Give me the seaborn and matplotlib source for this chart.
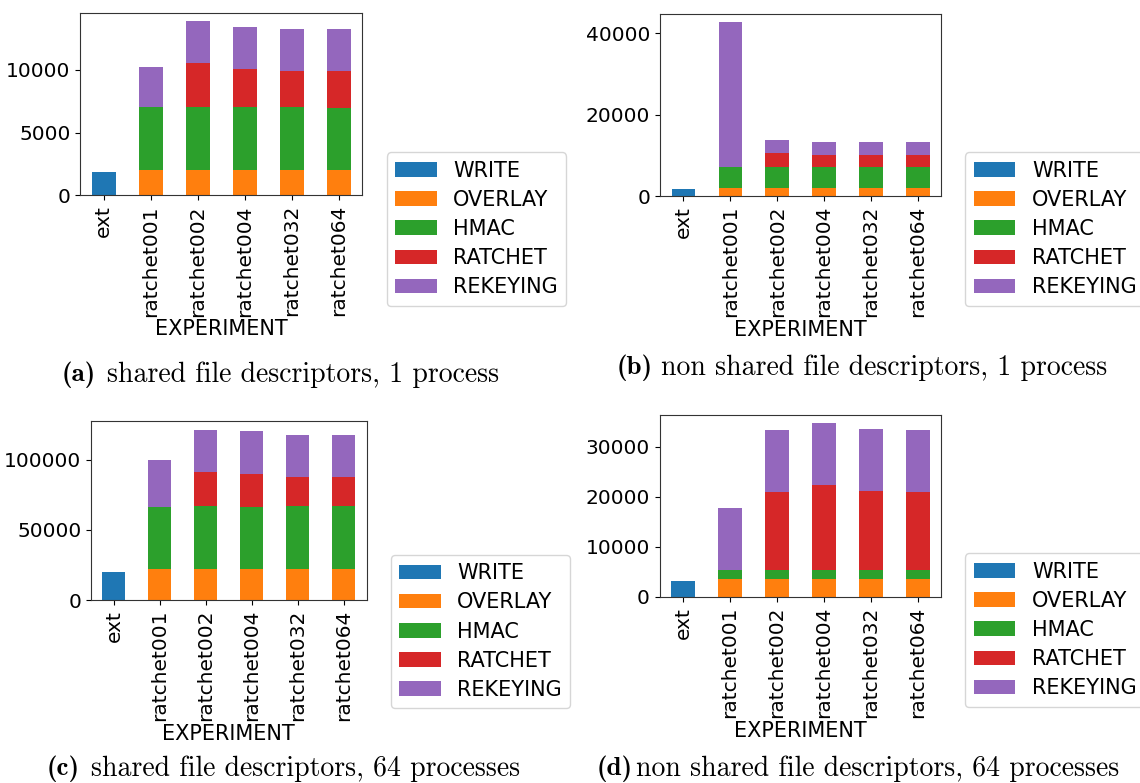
import numpy as np
import pandas as pd
import matplotlib
matplotlib.use("Agg")
import matplotlib.pyplot as plt
import seaborn as sns
from matplotlib.patches import Patch

experiments = ["ext", "ratchet001", "ratchet002", "ratchet004", "ratchet032", "ratchet064"]
components = ["WRITE", "OVERLAY", "HMAC", "RATCHET", "REKEYING"]
colors = ["#1f77b4", "#ff7f0e", "#2ca02c", "#d62728", "#9467bd"]

# (a) shared file descriptors, 1 process
a_write    = [1850, 0, 0, 0, 0, 0]
a_overlay  = [0, 2040, 2040, 2040, 2040, 2040]
a_hmac     = [0, 4990, 4990, 4990, 4990, 4930]
a_ratchet  = [0, 0, 3500, 3020, 2860, 2920]
a_rekeying = [0, 3180, 3340, 3350, 3350, 3350]

# (b) non shared file descriptors, 1 process
b_write    = [1750, 0, 0, 0, 0, 0]
b_overlay  = [0, 2000, 2000, 2000, 2000, 2000]
b_hmac     = [0, 5100, 5100, 5100, 5100, 5100]
b_ratchet  = [0, 0, 3450, 2960, 2960, 2960]
b_rekeying = [0, 35600, 3190, 3190, 3190, 3190]

# (c) shared file descriptors, 64 processes
c_write    = [20000, 0, 0, 0, 0, 0]
c_overlay  = [0, 22100, 22100, 22100, 22100, 22100]
c_hmac     = [0, 44300, 45000, 44300, 45000, 45000]
c_ratchet  = [0, 0, 24300, 23600, 20700, 20700]
c_rekeying = [0, 33600, 30000, 30000, 30000, 30000]

# (d) non shared file descriptors, 64 processes
d_write    = [3200, 0, 0, 0, 0, 0]
d_overlay  = [0, 3600, 3600, 3600, 3600, 3600]
d_hmac     = [0, 1800, 1800, 1800, 1800, 1800]
d_ratchet  = [0, 0, 15500, 16900, 15700, 15500]
d_rekeying = [0, 12300, 12350, 12350, 12350, 12350]

panels = [
    (a_write, a_overlay, a_hmac, a_ratchet, a_rekeying),
    (b_write, b_overlay, b_hmac, b_ratchet, b_rekeying),
    (c_write, c_overlay, c_hmac, c_ratchet, c_rekeying),
    (d_write, d_overlay, d_hmac, d_ratchet, d_rekeying),
]

W, H = 1140, 783
fig = plt.figure(figsize=(W / 100, H / 100), dpi=100)

def fx(px):
    return px / W

def fy(py):
    return (H - py) / H

# axes boxes (left, top, right, bottom) in pixels
ax_boxes = [
    (80.3, 12.7, 362.3, 195.3),
    (660.0, 13.7, 941.3, 196.0),
    (91.0, 421.0, 366.7, 600.0),
    (659.7, 414.7, 941.3, 597.0),
]
legend_anchor = [(386.7, 305.7), (965.3, 305.7), (390.7, 708.3), (965.3, 706.7)]

for i, series in enumerate(panels):
    l, t, r, b = ax_boxes[i]
    ax = fig.add_axes([fx(l), fy(b), (r - l) / W, (b - t) / H])
    df = pd.DataFrame(dict(zip(components, series)), index=experiments)
    cum = df.cumsum(axis=1)
    # draw stacked bars from the top layer down so lower layers overlay
    for comp, col in reversed(list(zip(components, colors))):
        vals = cum[comp].values
        sns.barplot(x=experiments, y=vals, color=col, width=0.5,
                    saturation=1, ax=ax, order=experiments, errorbar=None)
    ax.set_xlim(-0.5, len(experiments) - 0.5)
    ax.set_ylim(0, cum["REKEYING"].max() * 1.05)
    ax.tick_params(axis="x", labelrotation=90, labelsize=14.5)
    ax.tick_params(axis="y", labelsize=14.5)
    ax.set_xlabel("EXPERIMENT", fontsize=15, labelpad=2)
    ax.set_ylabel("")
    for s in ax.spines.values():
        s.set_color("#333333")
    handles = [Patch(facecolor=c, label=n) for n, c in zip(components, colors)]
    lx, ly = legend_anchor[i]
    ax.legend(handles=handles, loc="lower left", bbox_to_anchor=(fx(lx), fy(ly)),
              bbox_transform=fig.transFigure, borderaxespad=0, fontsize=15,
              labelspacing=0.44, frameon=True)

captions = [
    ("(a)", 62, "shared file descriptors, 1 process", 107, 375),
    ("(b)", 617, "non shared file descriptors, 1 process", 661, 368),
    ("(c)", 47, "shared file descriptors, 64 processes", 91, 769),
    ("(d)", 597, "non shared file descriptors, 64 processes", 636, 769),
]
for lab, lx, txt, tx, yy in captions:
    fig.text(fx(lx), fy(yy), lab, family="cmb10", fontsize=19.5, ha="left", va="center")
    fig.text(fx(tx), fy(yy), txt, family="cmr10", fontsize=20, ha="left", va="center")

fig.savefig("out.png", dpi=100)
